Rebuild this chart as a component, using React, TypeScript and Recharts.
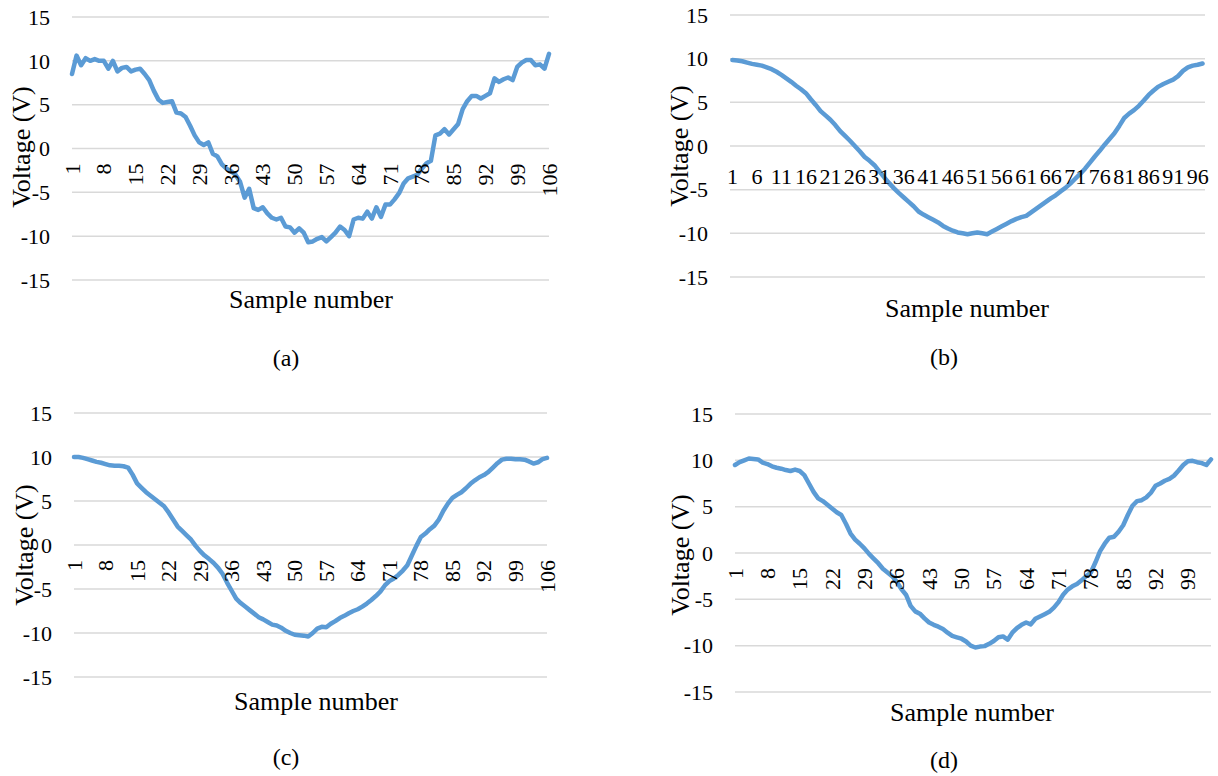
import React from 'react';
import { LineChart, Line, XAxis, YAxis, CartesianGrid } from 'recharts';

// voltage samples
const voltageA = [
  8.5, 10.6, 9.5, 10.3, 10.0, 10.2, 10.0, 10.0, 9.1, 10.0,
  8.8, 9.2, 9.3, 8.8, 9.0, 9.1, 8.5, 7.8, 6.6, 5.6,
  5.2, 5.3, 5.4, 4.1, 4.0, 3.6, 2.6, 1.5, 0.7, 0.4,
  0.7, -0.6, -0.9, -1.8, -2.3, -2.6, -3.0, -3.8, -5.6, -4.6,
  -6.8, -7.0, -6.7, -7.4, -7.9, -8.1, -7.9, -8.9, -9.0, -9.6,
  -9.1, -9.6, -10.7, -10.6, -10.3, -10.1, -10.6, -10.1, -9.6, -8.9,
  -9.3, -10.0, -8.1, -7.9, -8.0, -7.2, -8.0, -6.7, -7.8, -6.4,
  -6.4, -5.8, -5.1, -4.0, -3.4, -3.2, -3.0, -2.3, -1.7, -1.4,
  1.5, 1.7, 2.2, 1.6, 2.2, 2.8, 4.5, 5.4, 6.0, 6.0,
  5.7, 6.0, 6.3, 8.0, 7.6, 7.9, 8.1, 7.8, 9.3, 9.8,
  10.1, 10.1, 9.5, 9.6, 9.1, 10.8,
];

const voltageB = [
  9.85, 9.8, 9.7, 9.55, 9.4, 9.3, 9.2, 9.0, 8.8, 8.5,
  8.15, 7.75, 7.35, 6.9, 6.5, 6.05, 5.35, 4.7, 4.0, 3.5,
  3.0, 2.4, 1.7, 1.15, 0.6, 0.0, -0.6, -1.25, -1.7, -2.2,
  -2.9, -3.6, -4.25, -4.85, -5.4, -5.9, -6.4, -6.9, -7.5, -7.85,
  -8.15, -8.45, -8.75, -9.15, -9.45, -9.7, -9.9, -10.0, -10.1, -10.0,
  -9.9, -10.0, -10.1, -9.8, -9.5, -9.2, -8.9, -8.6, -8.35, -8.15,
  -8.0, -7.6, -7.2, -6.8, -6.4, -6.0, -5.65, -5.2, -4.8, -4.3,
  -3.75, -3.2, -2.6, -1.9, -1.2, -0.55, 0.15, 0.8, 1.45, 2.3,
  3.2, 3.7, 4.1, 4.6, 5.2, 5.85, 6.35, 6.8, 7.1, 7.35,
  7.6, 8.0, 8.6, 9.0, 9.2, 9.3, 9.45,
];

const voltageC = [
  10.0, 10.0, 9.9, 9.75, 9.6, 9.45, 9.35, 9.2, 9.05, 9.0,
  9.0, 8.95, 8.8, 8.0, 7.0, 6.5, 6.0, 5.6, 5.2, 4.8,
  4.4, 3.7, 2.9, 2.1, 1.6, 1.1, 0.6, -0.1, -0.7, -1.2,
  -1.6, -2.05, -2.6, -3.3, -4.3, -5.2, -6.1, -6.6, -7.0, -7.4,
  -7.8, -8.2, -8.45, -8.75, -9.05, -9.15, -9.4, -9.75, -10.0, -10.2,
  -10.25, -10.3, -10.4, -10.0, -9.5, -9.3, -9.35, -8.95, -8.65, -8.3,
  -8.05, -7.75, -7.5, -7.3, -7.0, -6.65, -6.25, -5.8, -5.3, -4.6,
  -4.1, -3.8, -3.4, -2.9, -2.3, -1.2, -0.1, 0.9, 1.3, 1.8,
  2.2, 2.9, 3.9, 4.7, 5.35, 5.7, 6.0, 6.45, 6.95, 7.35,
  7.7, 7.95, 8.3, 8.8, 9.3, 9.7, 9.8, 9.8, 9.75, 9.75,
  9.7, 9.5, 9.25, 9.4, 9.75, 9.9,
];

const voltageD = [
  9.5, 9.8, 10.0, 10.2, 10.15, 10.1, 9.75, 9.6, 9.35, 9.2,
  9.1, 8.95, 8.85, 9.0, 8.85, 8.4, 7.5, 6.6, 5.9, 5.6,
  5.2, 4.8, 4.4, 4.1, 3.15, 2.1, 1.45, 1.0, 0.5, -0.1,
  -0.6, -1.1, -1.7, -2.1, -2.5, -3.1, -3.9, -4.5, -5.7, -6.3,
  -6.55, -7.05, -7.5, -7.75, -7.95, -8.2, -8.6, -8.95, -9.1, -9.25,
  -9.55, -10.0, -10.2, -10.1, -10.05, -9.8, -9.5, -9.1, -9.0, -9.35,
  -8.6, -8.1, -7.75, -7.5, -7.7, -7.1, -6.85, -6.6, -6.35, -5.9,
  -5.3, -4.5, -3.95, -3.6, -3.35, -2.95, -2.5, -2.1, -1.0, 0.2,
  1.0, 1.65, 1.75, 2.3, 3.0, 4.1, 5.1, 5.6, 5.7, 6.0,
  6.5, 7.25, 7.5, 7.8, 8.0, 8.35, 8.9, 9.5, 9.9, 9.95,
  9.8, 9.7, 9.5, 10.1,
];

const yTicks = [-15, -10, -5, 0, 5, 10, 15];
const captions = ['(a)', '(b)', '(c)', '(d)'];
const xTitle = 'Sample number';
const yTitle = 'Voltage (V)';

const FONT = "'Liberation Serif', 'DejaVu Serif', serif";
const BLUE = '#5B9BD5';
const GRID = '#d9d9d9';
const Y_W = 60;
const M = 16;
const M_RIGHT = 24;

type Box = { left: number; top: number; right: number; bottom: number };
type Pt = { x: number; y: number };

interface PanelProps {
  values: number[];
  plot: Box;
  step: number;
  rotated: boolean;
  between: boolean;
  yTitlePos: Pt;
  xTitlePos: Pt;
  captionPos: Pt;
  caption: string;
}

const Label: React.FC<{ pos: Pt; text: string; rotate?: boolean; size: number }> = ({ pos, text, rotate, size }) => (
  <div
    style={{
      position: 'absolute',
      left: pos.x,
      top: pos.y,
      transform: `translate(-50%, -50%)${rotate ? ' rotate(-90deg)' : ''}`,
      fontFamily: FONT,
      fontSize: size,
      lineHeight: 1,
      whiteSpace: 'nowrap',
      color: '#000',
    }}
  >
    {text}
  </div>
);

const Panel: React.FC<PanelProps> = ({ values, plot, step, rotated, between, yTitlePos, xTitlePos, captionPos, caption }) => {
  const data = values.map((v, i) => ({ n: i + 1, v }));
  const plotW = plot.right - plot.left;
  const plotH = plot.bottom - plot.top;
  const zeroY = M + plotH / 2;
  const pad = between ? plotW / values.length / 2 : 0;

  const renderTick = (props: any) => {
    const { x, payload } = props;
    if (rotated) {
      const y = zeroY + 15;
      return (
        <text x={x} y={y} transform={`rotate(-90 ${x} ${y})`} textAnchor="end" dominantBaseline="central"
          fontFamily={FONT} fontSize={22} fill="#000">
          {payload.value}
        </text>
      );
    }
    return (
      <text x={x} y={zeroY + 30} textAnchor="middle" dominantBaseline="central" fontFamily={FONT} fontSize={22} fill="#000">
        {payload.value}
      </text>
    );
  };

  return (
    <>
      <div style={{ position: 'absolute', left: plot.left - Y_W, top: plot.top - M }}>
        <LineChart
          width={Y_W + plotW + M_RIGHT}
          height={plotH + 2 * M + 1}
          data={data}
          margin={{ top: M, right: M_RIGHT, bottom: M, left: 0 }}
        >
          <CartesianGrid vertical={false} stroke={GRID} strokeWidth={1.5} />
          <XAxis
            dataKey="n"
            height={1}
            interval={step - 1}
            axisLine={false}
            tickLine={false}
            padding={{ left: pad, right: pad }}
            tick={renderTick}
          />
          <YAxis
            width={Y_W}
            domain={[-15, 15]}
            ticks={yTicks}
            interval={0}
            axisLine={false}
            tickLine={false}
            tickMargin={16}
            tick={{ fontFamily: FONT, fontSize: 22, fill: '#000' }}
          />
          <Line
            type="linear"
            dataKey="v"
            stroke={BLUE}
            strokeWidth={4.5}
            strokeLinejoin="round"
            strokeLinecap="round"
            dot={false}
            isAnimationActive={false}
          />
        </LineChart>
      </div>
      <Label pos={yTitlePos} text={yTitle} rotate size={26} />
      <Label pos={xTitlePos} text={xTitle} size={26} />
      <Label pos={captionPos} text={caption} size={24} />
    </>
  );
};

export default function App() {
  return (
    <div style={{ position: 'absolute', left: 0, top: 0, width: 1218, height: 776, background: '#fff' }}>
      <Panel
        values={voltageA}
        plot={{ left: 72, right: 549, top: 17, bottom: 280 }}
        step={7}
        rotated
        between={false}
        yTitlePos={{ x: 22, y: 147 }}
        xTitlePos={{ x: 311, y: 300 }}
        captionPos={{ x: 286, y: 358 }}
        caption={captions[0]}
      />
      <Panel
        values={voltageB}
        plot={{ left: 730, right: 1205, top: 15, bottom: 277 }}
        step={5}
        rotated={false}
        between
        yTitlePos={{ x: 680, y: 146 }}
        xTitlePos={{ x: 967, y: 309 }}
        captionPos={{ x: 944, y: 357 }}
        caption={captions[1]}
      />
      <Panel
        values={voltageC}
        plot={{ left: 74, right: 547, top: 413, bottom: 677 }}
        step={7}
        rotated
        between={false}
        yTitlePos={{ x: 25, y: 545 }}
        xTitlePos={{ x: 316, y: 702 }}
        captionPos={{ x: 286, y: 757 }}
        caption={captions[2]}
      />
      <Panel
        values={voltageD}
        plot={{ left: 735, right: 1211, top: 414, bottom: 692 }}
        step={7}
        rotated
        between={false}
        yTitlePos={{ x: 681, y: 555 }}
        xTitlePos={{ x: 972, y: 713 }}
        captionPos={{ x: 944, y: 760 }}
        caption={captions[3]}
      />
    </div>
  );
}
